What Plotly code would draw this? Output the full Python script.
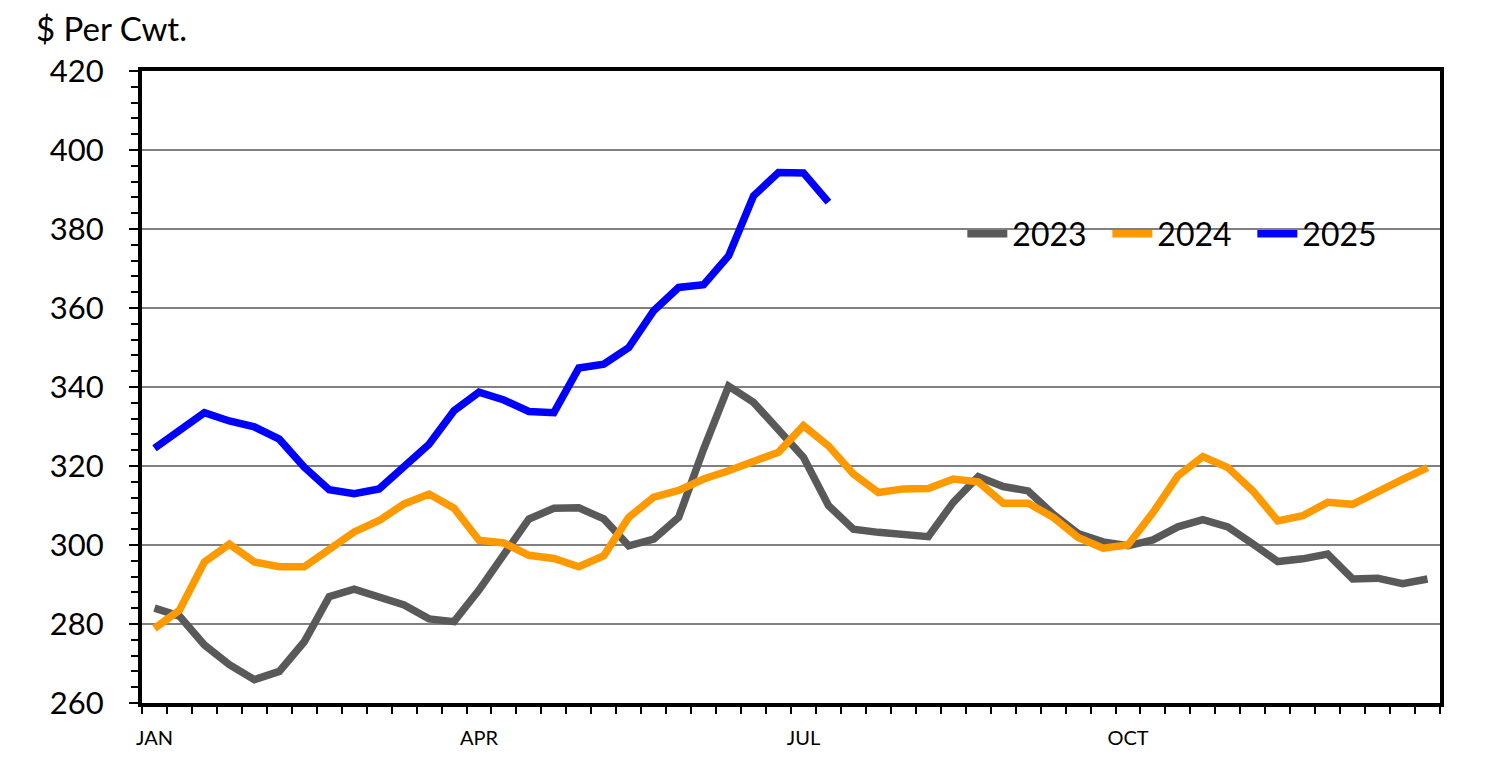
"""Weekly price, $ per cwt: 2023 vs 2024 vs 2025."""

import plotly.graph_objects as go

weeks = list(range(1, 53))

price_2023 = [
    284.0, 282.0, 274.7, 269.7, 265.9, 268.0, 275.5, 286.9, 288.8, 286.9,
    284.8, 281.3, 280.6, 288.6, 297.8, 306.6, 309.3, 309.4, 306.6, 299.8,
    301.5, 307.0, 324.3, 340.2, 336.1, 329.4, 322.2, 310.0, 304.0, 303.2,
    302.6, 302.1, 310.8, 317.3, 314.8, 313.7, 307.8, 302.9, 300.8, 299.8,
    301.3, 304.6, 306.4, 304.6, 300.3, 295.8, 296.5, 297.7, 291.4, 291.6,
    290.2, 291.4,
]
price_2024 = [
    278.9, 283.5, 295.7, 300.2, 295.7, 294.5, 294.5, 298.7, 303.3, 306.2,
    310.4, 312.9, 309.3, 301.2, 300.5, 297.4, 296.6, 294.5, 297.3, 307.0,
    312.1, 313.8, 316.7, 318.8, 321.4, 323.5, 330.2, 325.1, 318.0, 313.3,
    314.2, 314.3, 316.7, 316.0, 310.6, 310.6, 307.0, 301.9, 299.2, 300.0,
    308.2, 317.5, 322.4, 319.6, 313.7, 306.1, 307.4, 310.8, 310.3, 313.7,
    316.6, 319.6,
]
price_2025 = [
    324.5, 328.9, 333.5, 331.4, 329.9, 326.8, 319.7, 314.0, 313.0, 314.2,
    319.7, 325.5, 334.0, 338.7, 336.7, 333.8, 333.5, 344.8, 345.8, 350.0,
    359.3, 365.2, 365.9, 373.2, 388.4, 394.3, 394.2, 386.8,
]

month_weeks = [1, 14, 27, 40]
month_labels = ["JAN", "APR", "JUL", "OCT"]

series = [
    ("2023", price_2023, "#595959"),
    ("2024", price_2024, "#FF9900"),
    ("2025", price_2025, "#0000FF"),
]

FONT = "Lato, 'Open Sans', sans-serif"

fig = go.Figure()
for name, values, color in series:
    fig.add_trace(go.Scatter(
        x=weeks[:len(values)], y=values, name=name, mode="lines",
        line=dict(color=color, width=7.5),
    ))

# page body has an 8px margin, so the figure is a bit smaller than the window
fig.update_layout(
    width=1484, height=757,
    margin=dict(l=134, r=52, t=63, b=62),
    plot_bgcolor="white", paper_bgcolor="white",
    font=dict(family=FONT, color="black"),
    legend=dict(
        orientation="h", x=0.632, y=0.742, xanchor="left", yanchor="middle",
        font=dict(size=32), bgcolor="rgba(0,0,0,0)", itemwidth=40,
        entrywidth=90, tracegroupgap=0,
    ),
    annotations=[dict(
        text="$ Per Cwt.", xref="paper", yref="paper", x=-0.083, y=1.068,
        xanchor="left", yanchor="middle", showarrow=False,
        font=dict(size=33, family=FONT),
    )],
)

fig.update_xaxes(
    range=[0.5, 52.5], tickvals=month_weeks, ticktext=month_labels,
    ticks="", ticklabelstandoff=14, tickfont=dict(size=20),
    showgrid=False, zeroline=False,
    showline=True, linecolor="black", linewidth=4, mirror=True,
    minor=dict(tickmode="linear", tick0=0.5, dtick=1, ticks="outside",
               ticklen=7, tickwidth=2, tickcolor="black", showgrid=False),
)
fig.update_yaxes(
    range=[260, 420], dtick=20, tick0=260,
    ticks="outside", ticklen=9, tickwidth=2, tickcolor="black",
    ticklabelstandoff=19, tickfont=dict(size=31),
    showgrid=True, gridcolor="#808080", gridwidth=2, zeroline=False,
    showline=True, linecolor="black", linewidth=4, mirror=True,
    minor=dict(dtick=4, ticks="outside", ticklen=7, tickwidth=2,
               tickcolor="black", showgrid=False),
)

fig.write_html("out.html")
